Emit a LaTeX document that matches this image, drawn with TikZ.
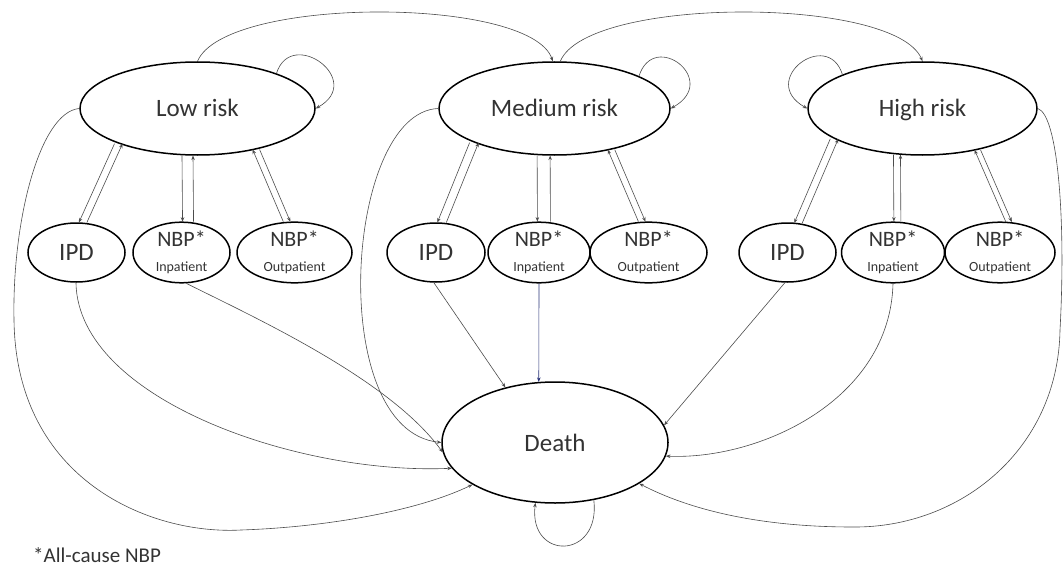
\documentclass[tikz,border=0pt]{standalone}
\usepackage{fontspec}
\setmainfont{Carlito}
\usetikzlibrary{arrows.meta,shapes.geometric}
\definecolor{navyline}{RGB}{40,50,120}
\begin{document}
\begin{tikzpicture}[x=1pt,y=-1pt,
  state/.style={ellipse, draw=black, line width=1.5pt, inner sep=0pt, text=black!80,
    font=\fontsize{25}{30}\selectfont},
  bigstate/.style={state, minimum height=93pt, text height=17pt, text depth=0pt},
  substate/.style={state, minimum height=59pt, align=center},
  conn/.style={draw=black!70, line width=0.6pt, -{Stealth[length=4.5pt,width=3.5pt]}},
  bluecon/.style={conn, draw=navyline},
]
\useasboundingbox (0,0) rectangle (1064,567);

% risk states
\node[bigstate, minimum width=235pt] (low)  at (197.5,108.5) {Low risk};
\node[bigstate, minimum width=231pt] (med)  at (554.5,108.5) {Medium risk};
\node[bigstate, minimum width=229pt] (high) at (922.5,108.5) {High risk};

% sub states
\newcommand{\nbplabel}[1]{{\fontsize{22}{22}\selectfont NBP*}\\[-5pt]{\fontsize{14}{15}\selectfont #1}}
\node[substate, minimum width=97pt]  (ipdL) at (76.5,252.5) {IPD};
\node[substate, minimum width=97pt]  (inL)  at (181.5,252.5) {\nbplabel{Inpatient}};
\node[substate, minimum width=115pt] (outL) at (294.5,252.5) {\nbplabel{Outpatient}};
\node[substate, minimum width=98pt]  (ipdM) at (436,252.5) {IPD};
\node[substate, minimum width=102pt] (inM)  at (539,252.5) {\nbplabel{Inpatient}};
\node[substate, minimum width=117pt] (outM) at (648.5,252.5) {\nbplabel{Outpatient}};
\node[substate, minimum width=97pt]  (ipdH) at (787.5,252.5) {IPD};
\node[substate, minimum width=103pt] (inH)  at (893,252.5) {\nbplabel{Inpatient}};
\node[substate, minimum width=110pt] (outH) at (1000,252.5) {\nbplabel{Outpatient}};

% death
\node[state, minimum width=226pt, minimum height=121pt, text height=17pt, text depth=0pt] (death) at (555,442.5) {Death};

% footnote
\node[anchor=base west, inner sep=0pt, text=black!80, font=\fontsize{21}{24}\selectfont] (note) at (33,562) {*All-cause NBP};

% self loops
\draw[conn] (low.24.3) .. controls +(15,-47) and +(50,-28) .. (low.0);
\draw[conn] (med.21.5) .. controls +(15,-47) and +(50,-28) .. (med.0);
\draw[conn] (high.157.2) .. controls +(-15,-47) and +(-50,-28) .. (high.180);
\draw[conn] (death.-56.3) .. controls +(7,60) and +(-7,58) .. (death.-108.6);

% top arcs between risk states
\draw[conn] (low.90) .. controls (225,-4) and (530,-4) .. (med.92);
\draw[conn] (med.83.2) .. controls (587,-4) and (895,-4) .. (high.90);

% low risk <-> sub states
\draw[conn] ([xshift=-4pt]low.-156.7) -- ([xshift=-4pt]ipdL.78);
\draw[conn] ([xshift=4pt]ipdL.78) -- ([xshift=4pt]low.-156.7);
\draw[conn] ([xshift=-5.5pt]low.-102.2) -- ([xshift=-5.5pt]inL.78.4);
\draw[conn] ([xshift=5.5pt]inL.78.4) -- ([xshift=5.5pt]low.-102.2);
\draw[conn] ([xshift=-3.5pt]outL.104.4) -- ([xshift=-3.5pt]low.-35.5);
\draw[conn] ([xshift=3.5pt]low.-35.5) -- ([xshift=3.5pt]outL.104.4);

% medium risk <-> sub states
\draw[conn] ([xshift=-4.5pt]med.-157) -- ([xshift=-4.5pt]ipdM.79);
\draw[conn] ([xshift=4.5pt]ipdM.79) -- ([xshift=4.5pt]med.-157);
\draw[conn] ([xshift=-6.5pt]med.-103.4) -- ([xshift=-6.5pt]inM.81.3);
\draw[conn] ([xshift=6.5pt]inM.81.3) -- ([xshift=6.5pt]med.-103.4);
\draw[conn] ([xshift=-3.5pt]outM.102.5) -- ([xshift=-3.5pt]med.-36.6);
\draw[conn] ([xshift=3.5pt]med.-36.6) -- ([xshift=3.5pt]outM.102.5);

% high risk <-> sub states
\draw[conn] ([xshift=-4pt]high.-161.6) -- ([xshift=-4pt]ipdH.70.9);
\draw[conn] ([xshift=4pt]ipdH.70.9) -- ([xshift=4pt]high.-161.6);
\draw[conn] ([xshift=-3.5pt]high.-119.4) -- ([xshift=-3.5pt]inH.82.2);
\draw[conn] ([xshift=3.5pt]inH.82.2) -- ([xshift=3.5pt]high.-119.4);
\draw[conn] ([xshift=-3pt]outH.74.7) -- ([xshift=-3pt]high.-37.9);
\draw[conn] ([xshift=3pt]high.-37.9) -- ([xshift=3pt]outH.74.7);

% transitions to death
\draw[conn] (low.180) .. controls (40,112) and (12,220) .. (14,320)
  .. controls (16,480) and (150,535) .. (241,530)
  .. controls (330,527) and (420,510) .. (death.-153.7);
\draw[conn] (ipdL.-91) .. controls (78,400) and (300,475) .. (death.-166.4);
\draw[conn] (inL.-81) .. controls (260,320) and (390,380) .. (death.-175.9);
\draw[conn] (med.180) .. controls (345,112) and (325,430) .. (death.180);
\draw[conn] (ipdM.-94) -- (death.132);
\draw[bluecon] (inM.-90) -- (death.105.9);
\draw[conn] (ipdH.-95) -- (death.9.4);
\draw[conn] (inH.-90) .. controls (890,400) and (760,460) .. (death.-7.2);
\draw[conn] (high.0) .. controls (1058,115) and (1066,220) .. (1060,330)
  .. controls (1058,450) and (960,528) .. (853,527)
  .. controls (760,527) and (690,510) .. (death.-26.3);
\end{tikzpicture}
\end{document}
